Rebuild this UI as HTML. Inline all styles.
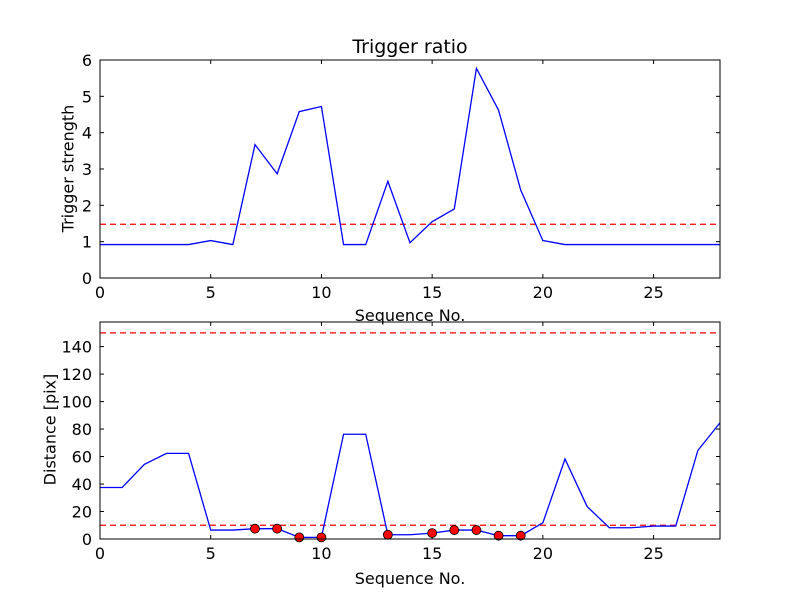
<!DOCTYPE html>
<html><head><meta charset="utf-8"><style>
body{margin:0;background:#fff;}
svg{display:block;font-family:"DejaVu Sans","Liberation Sans",sans-serif;}
</style></head><body>
<svg id="chart" width="800" height="600" xmlns="http://www.w3.org/2000/svg">
<rect width="800" height="600" fill="#fff"/>
</svg>
<script>
const seq = [0,1,2,3,4,5,6,7,8,9,10,11,12,13,14,15,16,17,18,19,20,21,22,23,24,25,26,27,28];
const strength = [0.92,0.92,0.92,0.92,0.92,1.03,0.92,3.67,2.87,4.58,4.72,0.92,0.92,2.66,0.97,1.55,1.9,5.77,4.62,2.42,1.03,0.92,0.92,0.92,0.92,0.92,0.92,0.92,0.92];
const strengthThreshold = 1.48;
const distance = [37.5,37.5,54.3,62.3,62.3,6.5,6.5,7.5,7.5,1.2,1.2,76.2,76.2,3.1,3.1,4.3,6.5,6.5,2.4,2.4,11.8,58.2,23.6,8.2,8.2,9.4,9.4,64.4,84.6];
const triggered = [7,8,9,10,13,15,16,17,18,19];
const distThresholds = [10,150];
const xTicks = [0,5,10,15,20,25];
const yTicksTop = [0,1,2,3,4,5,6];
const yTicksBottom = [0,20,40,60,80,100,120,140];

const svg = document.getElementById('chart');
const NS = 'http://www.w3.org/2000/svg';
function mk(tag, attrs, parent){
  const e = document.createElementNS(NS, tag);
  for (const k in attrs) e.setAttribute(k, attrs[k]);
  (parent||svg).appendChild(e); return e;
}
const L=100,R=720;
const xs = v => L + v/28*(R-L);
function panel(top,bottom,ymax,yTicks,name){
  const ys = v => bottom - v/ymax*(bottom-top);
  const g = mk('g',{});
  
  
  xTicks.forEach(t=>{
    mk('line',{x1:xs(t),x2:xs(t),y1:bottom,y2:bottom-4,stroke:'#000'},g);
    mk('line',{x1:xs(t),x2:xs(t),y1:top,y2:top+4,stroke:'#000'},g);
    const tx = mk('text',{x:xs(t),y:bottom+20,'text-anchor':'middle','font-size':'16'},g);
    tx.textContent=t;
    
    
  });
  yTicks.forEach(t=>{
    mk('line',{x1:L,x2:L+4,y1:ys(t),y2:ys(t),stroke:'#000'},g);
    mk('line',{x1:R,x2:R-4,y1:ys(t),y2:ys(t),stroke:'#000'},g);
    const tx = mk('text',{x:L-8,y:ys(t)+6,'text-anchor':'end','font-size':'16'},g);
    tx.textContent=t;
    
    
  });
  return {g,ys};
}
// top
const p1 = panel(60,278,6,yTicksTop,'strength-panel');
const th1 = mk('line',{x1:L,x2:R,y1:p1.ys(strengthThreshold),y2:p1.ys(strengthThreshold),stroke:'#f00','stroke-width':1.3,'stroke-dasharray':'6,4'},p1.g);


const l1 = mk('polyline',{points:seq.map((s,i)=>xs(s)+','+p1.ys(strength[i])).join(' '),fill:'none',stroke:'#00f','stroke-width':1.3},p1.g);


mk('rect',{x:L,y:60,width:R-L,height:218,fill:'none',stroke:'#000'},p1.g);
// bottom
const p2 = panel(322,539,157.9,yTicksBottom,'distance-panel');
distThresholds.forEach(v=>{
  const t = mk('line',{x1:L,x2:R,y1:p2.ys(v),y2:p2.ys(v),stroke:'#f00','stroke-width':1.3,'stroke-dasharray':'6,4'},p2.g);
  
  
});
const l2 = mk('polyline',{points:seq.map((s,i)=>xs(s)+','+p2.ys(distance[i])).join(' '),fill:'none',stroke:'#00f','stroke-width':1.3},p2.g);


triggered.forEach(i=>{
  const c = mk('circle',{cx:xs(seq[i]),cy:p2.ys(distance[i]),r:4.5,fill:'#f00',stroke:'#000','stroke-width':0.8},p2.g);
  
  
});
mk('rect',{x:L,y:322,width:R-L,height:217,fill:'none',stroke:'#000'},p2.g);
</script>
<svg width="0" height="0"></svg>
<div style="position:absolute;left:0;top:0;width:800px;height:600px;pointer-events:none;font-family:'DejaVu Sans','Liberation Sans',sans-serif;">
<div style="position:absolute;left:310px;top:36px;width:200px;text-align:center;font-size:19px;">Trigger ratio</div>
<div style="position:absolute;left:310px;top:306px;width:200px;text-align:center;font-size:16px;">Sequence No.</div>
<div style="position:absolute;left:310px;top:569px;width:200px;text-align:center;font-size:16px;">Sequence No.</div>
<div style="position:absolute;left:-12px;top:159px;width:160px;text-align:center;font-size:16px;transform:rotate(-90deg);">Trigger strength</div>
<div style="position:absolute;left:-30px;top:420px;width:160px;text-align:center;font-size:16px;transform:rotate(-90deg);">Distance [pix]</div>
</div>
</body></html>
